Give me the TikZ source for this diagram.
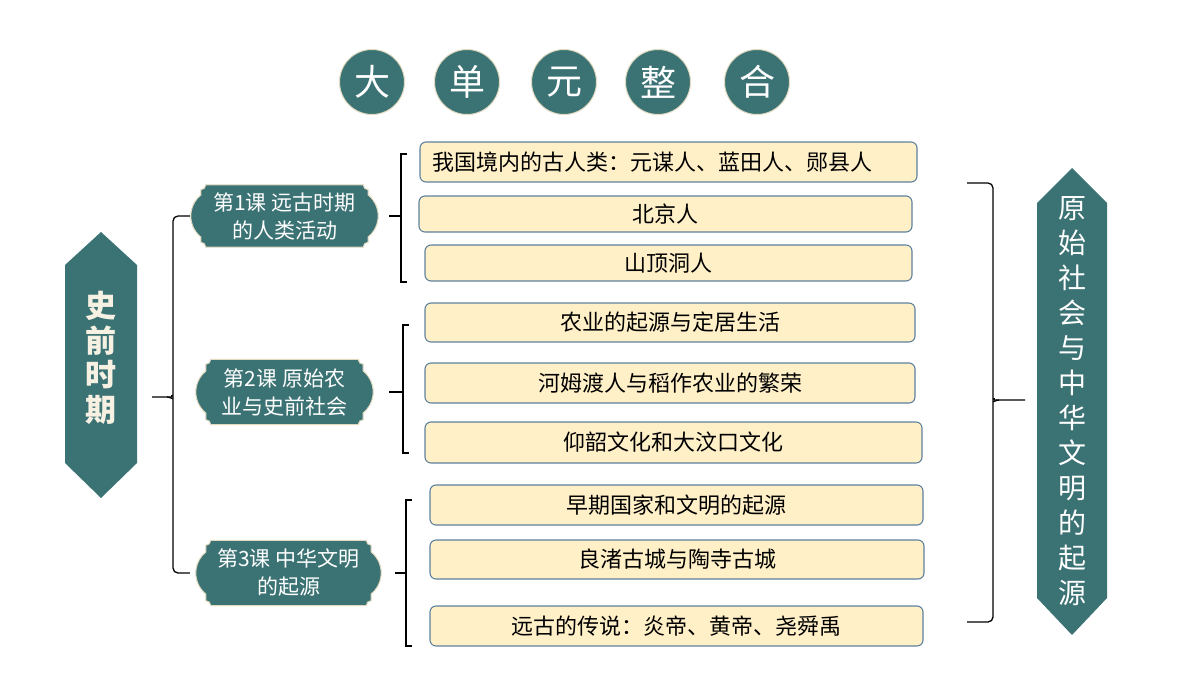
\documentclass[tikz,border=0pt]{standalone}
\usepackage{fontspec}
\usepackage{tikz}
\usetikzlibrary{calc, backgrounds}
\newfontfamily\cjk{Noto Sans CJK SC}

\definecolor{deepteal}{HTML}{3B7274}
\definecolor{paleyellow}{HTML}{FFF0C8}
\definecolor{slateline}{HTML}{5F819E}
\definecolor{rimbeige}{HTML}{E2DAC0}
\definecolor{creamtext}{HTML}{F6F1E3}

\begin{document}
\begin{tikzpicture}[
    x=1pt, y=-1pt,
    titledot/.style={circle, fill=deepteal, draw=rimbeige, line width=1pt, minimum size=65pt, inner sep=0pt, text=white, font=\cjk\fontsize{36}{36}\selectfont},
    lesson/.style={minimum width=#1, minimum height=62pt, inner sep=0pt, align=center, text=white, font=\cjk\fontsize{21}{28}\selectfont},
    lesson/.default={167pt},
    point/.style={rectangle, rounded corners=6pt, draw=slateline, line width=1.1pt, fill=paleyellow, minimum width=#1, minimum height=39pt, inner sep=0pt, font=\cjk\fontsize{22}{22}\selectfont},
    point/.default={490pt},
    bracket/.style={draw=black, line width=1.3pt},
    hexlabel/.style={inner sep=0pt, align=center, #1},
    hexlabel/.default={text=white}
]
\useasboundingbox (0,0) rectangle (1200,675);

% === 标题 ===
\node[titledot] (c1) at (372,82) {大};
\node[titledot] (c2) at (467,82) {单};
\node[titledot] (c3) at (564,82) {元};
\node[titledot] (c4) at (658,82) {整};
\node[titledot] (c5) at (757,82) {合};

% === 左右两个六边形 ===
\node[hexlabel={text=creamtext, font=\cjk\bfseries\fontsize{31}{34.5}\selectfont}] (hq) at (101,358) {史\\前\\时\\期};
\node[hexlabel={text=white, font=\cjk\fontsize{28}{35}\selectfont}] (yuan) at (1072,401)
    {原\\始\\社\\会\\与\\中\\华\\文\\明\\的\\起\\源};

% === 三课 ===
\node[lesson] (k1) at (284.5,216) {第1课\ 远古时期\\的人类活动};
\node[lesson=157pt, minimum height=65pt] (k2) at (284.5,392) {第2课\ 原始农\\业与史前社会};
\node[lesson=165pt, minimum height=65pt] (k3) at (288.5,573) {第3课\ 中华文明\\的起源};

% === 知识点 ===
\node[point=497pt, minimum height=40pt, text width=473pt, inner xsep=12pt, align=left] (b1) at (668.5,162) {我国境内的古人类：元谋人、蓝田人、郧县人};
\node[point=493pt, minimum height=36pt] (b2) at (665.5,214) {北京人};
\node[point=487pt, minimum height=36pt] (b3) at (668.5,263) {山顶洞人};

\node[point=490pt] (b4) at (670,322.5) {农业的起源与定居生活};
\node[point=490pt, minimum height=40pt] (b5) at (670,383) {河姆渡人与稻作农业的繁荣};
\node[point=497pt, minimum height=41pt] (b6) at (673.5,442.5) {仰韶文化和大汶口文化};

\node[point=493pt, minimum height=40pt] (b7) at (676.5,505) {早期国家和文明的起源};
\node[point=494pt] (b8) at (677,559.5) {良渚古城与陶寺古城};
\node[point=493pt, minimum height=40pt] (b9) at (676.5,626) {远古的传说：炎帝、黄帝、尧舜禹};

% === 底色形状 ===
\begin{scope}[on background layer]
\fill[deepteal] ($(hq)+(-36,-93)$) -- ($(hq)+(0,-126)$) -- ($(hq)+(36,-93)$)
    -- ($(hq)+(36,105)$) -- ($(hq)+(0,140)$) -- ($(hq)+(-36,105)$) -- cycle;
\fill[deepteal] ($(yuan)+(-35,-198)$) -- ($(yuan)+(0,-233)$) -- ($(yuan)+(35,-198)$)
    -- ($(yuan)+(35,197)$) -- ($(yuan)+(0,234)$) -- ($(yuan)+(-35,197)$) -- cycle;
\foreach \n in {k1,k2,k3}
  \filldraw[fill=deepteal, draw=rimbeige, line width=1pt]
    ([xshift=5pt]\n.north west) -- ([xshift=-5pt]\n.north east)
    arc[start angle=180, end angle=270, radius=5pt]
    -- ([yshift=21pt]\n.east) arc[start angle=51, end angle=-51, radius=27pt]
    -- ([yshift=5pt]\n.south east) arc[start angle=90, end angle=180, radius=5pt]
    -- ([xshift=5pt]\n.south west) arc[start angle=0, end angle=90, radius=5pt]
    -- ([yshift=-21pt]\n.west) arc[start angle=231, end angle=129, radius=27pt]
    -- ([yshift=-5pt]\n.north west) arc[start angle=270, end angle=360, radius=5pt]
    -- cycle;
\end{scope}

% === 括号 ===
% 史前时期 → 三课
\coordinate (lb) at (173,397);
\coordinate (ltip) at (152,397);
\draw[bracket, rounded corners=5pt] ([xshift=-11pt]k1.west) -| ([yshift=6pt]lb) to[out=-90, in=0] ([xshift=-6pt]lb) -- (ltip);
\draw[bracket, rounded corners=5pt] ([xshift=-16pt]k3.west) -| ([yshift=-6pt]lb) to[out=90, in=0] ([xshift=-6pt]lb);

% 第1课 → 知识点
\coordinate (s1) at (401,216);
\coordinate (t1) at (407,154);
\coordinate (u1) at (407,282);
\draw[bracket] (t1) -| (s1) |- (u1);
\draw[bracket] ([xshift=21pt]k1.east) -- (s1);

% 第2课 → 知识点
\coordinate (s2) at (403,392);
\coordinate (t2) at (409,325);
\coordinate (u2) at (409,453);
\draw[bracket] (t2) -| (s2) |- (u2);
\draw[bracket] ([xshift=26pt]k2.east) -- (s2);

% 第3课 → 知识点
\coordinate (s3) at (406,573);
\coordinate (t3) at (412,500);
\coordinate (u3) at (412,646);
\draw[bracket] (t3) -| (s3) |- (u3);
\draw[bracket] ([xshift=24pt]k3.east) -- (s3);

% 知识点 → 原始社会与中华文明的起源
\coordinate (rtop) at (967,183);
\coordinate (rbot) at (967,622);
\coordinate (rb) at (993,400);
\coordinate (rtip) at (1025,400);
\draw[bracket, rounded corners=5pt] (rtop) -| ([yshift=6pt]rb) to[out=-90, in=180] ([xshift=6pt]rb) -- (rtip);
\draw[bracket, rounded corners=5pt] (rbot) -| ([yshift=-6pt]rb) to[out=90, in=180] ([xshift=6pt]rb);

\end{tikzpicture}
\end{document}
